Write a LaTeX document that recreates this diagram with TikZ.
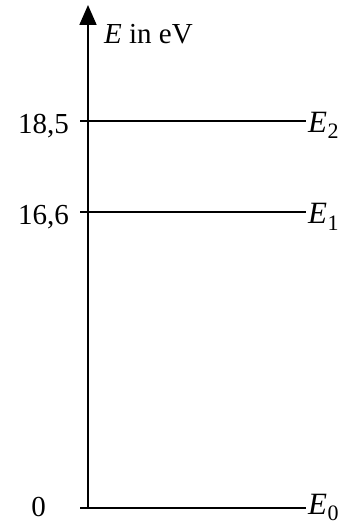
\documentclass[tikz,border=0pt]{standalone}
\usepackage{fontspec}
\setmainfont{Liberation Serif}
\usetikzlibrary{arrows.meta}
\newcommand{\lev}[1]{\textit{E}\kern0.5pt\raisebox{-6pt}{\fontsize{22}{24}\selectfont #1}}
\tikzset{
  lvl/.style={line width=1.8pt},
  axisline/.style={line width=1.8pt,-{Triangle[length=20pt,width=17pt]}},
  lbl/.style={inner sep=0pt,font=\fontsize{29}{33}\selectfont},
  elbl/.style={inner sep=0pt,font=\fontsize{31}{35}\selectfont},
}
\begin{document}
\begin{tikzpicture}[x=1pt,y=-1pt]
\useasboundingbox (0,0) rectangle (345,526);
% axis
\coordinate (o) at (88,508);
\coordinate (top) at (88,5);
\draw[axisline] (o) -- (top);
\node[lbl,anchor=base west] (title) at (104,44) {\textit{E} in eV};
% level lines
\coordinate (s2) at (80,121);
\coordinate (s1) at (80,212);
\coordinate (s0) at (80,508);
\coordinate (t2) at (306,121);
\coordinate (t1) at (306,212);
\coordinate (t0) at (306,508);
\draw[lvl] (s2) -- (t2);
\draw[lvl] (s1) -- (t1);
\draw[lvl] (s0) -- (t0);
\node[elbl,anchor=base west] (e2) at (308,133) {\lev{2}};
\node[elbl,anchor=base west] (e1) at (308,224) {\lev{1}};
\node[elbl,anchor=base west] (e0) at (308,514) {\lev{0}};
\node[lbl,anchor=base east] (v2) at (69,134) {18,5};
\node[lbl,anchor=base east] (v1) at (69,225) {16,6};
\node[lbl,anchor=base east] (v0) at (46,516) {0};
\end{tikzpicture}
\end{document}
